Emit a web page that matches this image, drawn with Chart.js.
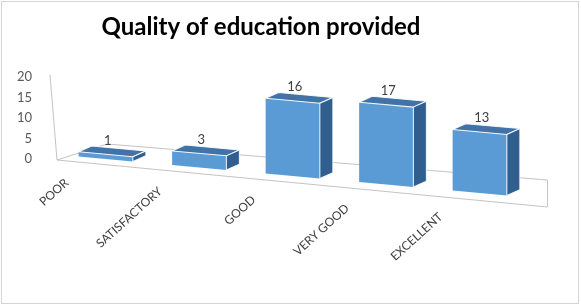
<!DOCTYPE html>
<html>
<head>
<meta charset="utf-8">
<script src="https://cdn.jsdelivr.net/npm/chart.js@4/dist/chart.umd.min.js"></script>
<style>
  html, body { margin: 0; padding: 0; background: #fff; }
</style>
</head>
<body>
<canvas id="grafico" width="581" height="305"></canvas>
<script>
// Datos del grafico
const categorias = ['POOR', 'SATISFACTORY', 'GOOD', 'VERY GOOD', 'EXCELLENT'];
const valores = [1, 3, 16, 17, 13];
const ticksY = [0, 5, 10, 15, 20];

const pendiente = 0.091;          // inclinacion del piso (perspectiva)
const prof = { dx: 13, dy: -7 };  // profundidad de las barras 3D

const colorFrente = '#5b9bd5';
const colorArriba = '#4173a8';
const colorLado = '#305f8f';

function pivote(area) { return area.left + 47; }
function bajar(x, area) { return pendiente * (x - pivote(area)); }

const plugin3d = {
  id: 'barras3d',
  beforeDraw(chart) {
    const ctx = chart.ctx;
    ctx.save();
    ctx.fillStyle = '#fff';
    ctx.fillRect(0, 0, chart.width, chart.height);
    ctx.strokeStyle = '#d4d4d4';
    ctx.lineWidth = 1;
    ctx.strokeRect(1.5, 1.5, chart.width - 4, chart.height - 3);
    ctx.restore();
  },
  beforeDatasetsDraw(chart) {
    const ctx = chart.ctx;
    const a = chart.chartArea;
    // piso y eje vertical
    ctx.save();
    ctx.strokeStyle = '#c4c4c4';
    ctx.lineWidth = 1;
    ctx.beginPath();
    ctx.moveTo(a.left - 9, a.top - 2);
    ctx.lineTo(a.left - 2, a.bottom + 1);
    ctx.lineTo(a.left + 48, a.bottom - 15);
    ctx.lineTo(a.right + 21, a.bottom + 21);
    ctx.lineTo(a.right + 21, a.bottom + 48);
    ctx.lineTo(a.left - 2, a.bottom + 1);
    ctx.stroke();
    ctx.restore();

    ctx.save();
    ctx.transform(1, pendiente, 0, 1, 0, -pendiente * pivote(a));
  },
  afterDatasetsDraw(chart) {
    const ctx = chart.ctx;
    const a = chart.chartArea;
    const meta = chart.getDatasetMeta(0);

    meta.data.forEach((bar) => {
      const w = bar.width;
      const x1 = bar.x - w / 2;
      const x2 = bar.x + w / 2;
      const top = bar.y;
      const base = bar.base;

      ctx.lineWidth = 1;
      ctx.strokeStyle = 'rgba(255,255,255,0.9)';

      // cara superior
      ctx.beginPath();
      ctx.moveTo(x1, top);
      ctx.lineTo(x2, top);
      ctx.lineTo(x2 + prof.dx, top + prof.dy);
      ctx.lineTo(x1 + prof.dx, top + prof.dy);
      ctx.closePath();
      ctx.fillStyle = colorArriba;
      ctx.fill();
      ctx.stroke();

      // cara lateral
      ctx.beginPath();
      ctx.moveTo(x2, top);
      ctx.lineTo(x2 + prof.dx, top + prof.dy);
      ctx.lineTo(x2 + prof.dx, base + prof.dy);
      ctx.lineTo(x2, base);
      ctx.closePath();
      ctx.fillStyle = colorLado;
      ctx.fill();
      ctx.stroke();
    });
    ctx.restore();

    // etiquetas de valores
    ctx.save();
    ctx.fillStyle = '#404040';
    ctx.font = '13px Lato';
    ctx.textAlign = 'center';
    ctx.textBaseline = 'middle';
    meta.data.forEach((bar, i) => {
      const tx = bar.x + 2;
      const ty = bar.y - 14 + bajar(tx, a);
      ctx.fillText(String(valores[i]), tx, ty);
    });

    // etiquetas de categorias (rotadas)
    const escalaX = chart.scales.x;
    ctx.font = '12px Lato';
    ctx.textAlign = 'right';
    categorias.forEach((cat, i) => {
      const cx = escalaX.getPixelForValue(i);
      const yb = a.bottom + bajar(cx, a) + 22;
      ctx.save();
      ctx.translate(cx - 39, yb);
      ctx.rotate(-42 * Math.PI / 180);
      ctx.fillText(cat, 0, 0);
      ctx.restore();
    });
    ctx.restore();
  }
};

const ctx = document.getElementById('grafico').getContext('2d');
new Chart(ctx, {
  type: 'bar',
  data: {
    labels: categorias,
    datasets: [{
      data: valores,
      backgroundColor: colorFrente,
      borderWidth: 0,
      barPercentage: 0.58,
      categoryPercentage: 1,
      yAxisID: 'yBarras',
      clip: false
    }]
  },
  options: {
    responsive: false,
    animation: false,
    layout: { padding: { left: -4.5, right: 54.5, bottom: 146, top: 0 } },
    plugins: {
      legend: { display: false },
      tooltip: { enabled: false },
      title: {
        display: true,
        text: 'Quality of education provided',
        color: '#000',
        font: { family: 'Lato', size: 24, weight: 'bold' },
        padding: { top: 13, bottom: 35 }
      }
    },
    scales: {
      x: {
        display: false,
        offset: true
      },
      y: {
        position: 'left',
        min: ticksY[0],
        max: ticksY[ticksY.length - 1],
        afterFit(scale) { scale.width = 63.5; },
        ticks: {
          stepSize: ticksY[1] - ticksY[0],
          padding: 19,
          color: '#595959',
          font: { family: 'Lato', size: 13 }
        },
        grid: { display: false },
        border: { display: false }
      },
      // escala oculta para las barras (el frente de la perspectiva es mas grande)
      yBarras: {
        display: false,
        min: 0,
        max: 17.5
      }
    }
  },
  plugins: [plugin3d]
});
</script>
</body>
</html>
